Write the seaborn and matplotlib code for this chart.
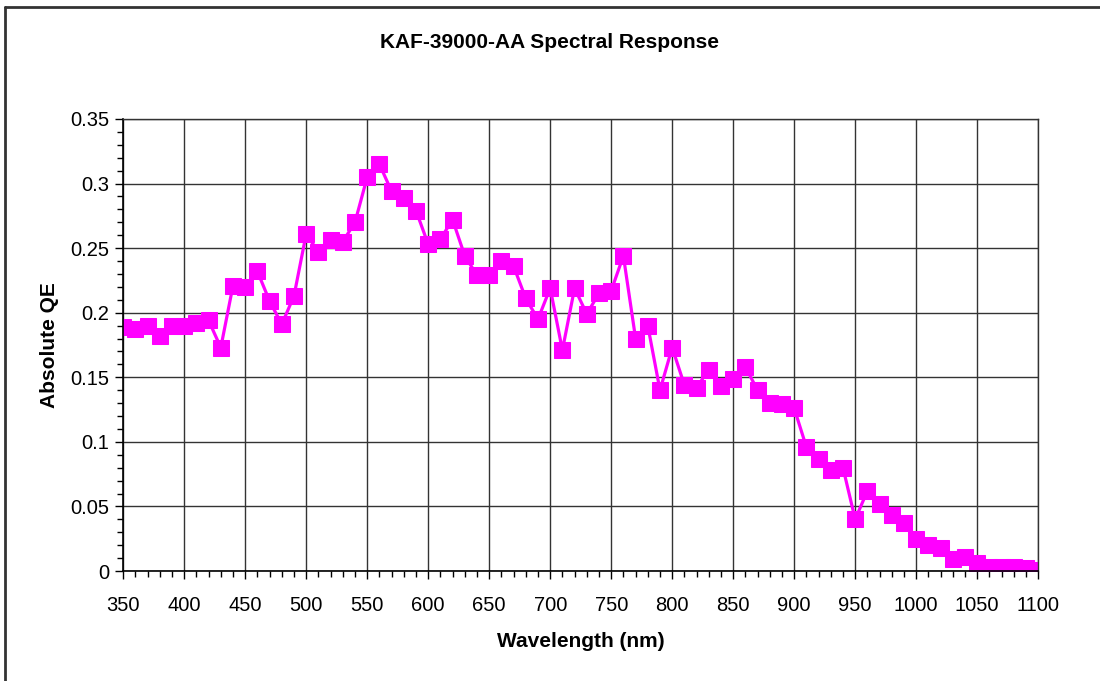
import pandas as pd
import seaborn as sns
import matplotlib.pyplot as plt
from matplotlib.ticker import MultipleLocator
from matplotlib.lines import Line2D

# wavelength in nm, 10 nm steps
wavelength = list(range(350, 1101, 10))
qe = [0.189, 0.187, 0.190, 0.182, 0.190, 0.190, 0.192, 0.194, 0.173, 0.221,
      0.220, 0.232, 0.209, 0.191, 0.213, 0.261, 0.247, 0.256, 0.255, 0.270,
      0.305, 0.315, 0.294, 0.289, 0.279, 0.253, 0.257, 0.272, 0.244, 0.229,
      0.229, 0.240, 0.236, 0.211, 0.195, 0.219, 0.171, 0.219, 0.199, 0.215,
      0.217, 0.244, 0.180, 0.190, 0.140, 0.173, 0.144, 0.142, 0.156, 0.143,
      0.149, 0.158, 0.140, 0.130, 0.129, 0.126, 0.096, 0.087, 0.078, 0.080,
      0.040, 0.062, 0.052, 0.043, 0.037, 0.025, 0.020, 0.018, 0.009, 0.011,
      0.006, 0.003, 0.003, 0.003, 0.002, 0.001]

title = 'KAF-39000-AA Spectral Response'
xlabel = 'Wavelength (nm)'
ylabel = 'Absolute QE'
yticks = [0, 0.05, 0.1, 0.15, 0.2, 0.25, 0.3, 0.35]
yticklabels = ['0', '0.05', '0.1', '0.15', '0.2', '0.25', '0.3', '0.35']


def main():
    sns.set_style('white')
    plt.rcParams['font.family'] = ['Liberation Sans', 'DejaVu Sans']
    plt.rcParams['text.color'] = 'black'
    plt.rcParams['axes.labelcolor'] = 'black'
    plt.rcParams['xtick.color'] = 'black'
    plt.rcParams['ytick.color'] = 'black'

    df = pd.DataFrame({'wavelength': wavelength, 'qe': qe})

    fig = plt.figure(figsize=(11, 6.81), dpi=100)
    ax = fig.add_axes([0.112, 0.1615, 0.8318, 0.6638])

    sns.lineplot(data=df, x='wavelength', y='qe', ax=ax, color='#FF00FF',
                 linewidth=2.3, marker='s', markersize=11,
                 markeredgecolor='#FF00FF', markerfacecolor='#FF00FF')

    ax.set_xlim(350, 1100)
    ax.set_ylim(0, 0.35)
    ax.xaxis.set_major_locator(MultipleLocator(50))
    ax.xaxis.set_minor_locator(MultipleLocator(10))
    ax.yaxis.set_minor_locator(MultipleLocator(0.01))
    ax.set_yticks(yticks)
    ax.set_yticklabels(yticklabels)
    ax.grid(True, which='major', color='#333333', linewidth=1)
    ax.set_axisbelow(True)

    ax.tick_params(axis='both', which='major', direction='out', length=6,
                   width=1, color='black', labelcolor='black', labelsize=14.5,
                   bottom=True, left=True)
    ax.tick_params(axis='x', which='major', pad=12)
    ax.tick_params(axis='y', which='major', pad=4)
    ax.tick_params(axis='both', which='minor', direction='out', length=4,
                   width=1, color='black', bottom=True, left=True)

    for side in ['left', 'bottom']:
        ax.spines[side].set_color('black')
        ax.spines[side].set_linewidth(1.2)
    for side in ['top', 'right']:
        ax.spines[side].set_color('#333333')
        ax.spines[side].set_linewidth(1)

    ax.set_xlabel(xlabel, fontsize=15, fontweight='bold', labelpad=12,
                  color='black')
    ax.set_ylabel(ylabel, fontsize=15, fontweight='bold', labelpad=8,
                  color='black')
    fig.text(0.5, 0.938, title, ha='center', va='center',
             fontsize=15, fontweight='bold', color='black')

    # outer chart frame (only top and left edges visible)
    top = 1 - 7 / 681
    left = 4.5 / 1100
    fig.add_artist(Line2D([left, 1], [top, top], transform=fig.transFigure,
                          color='#333333', linewidth=2))
    fig.add_artist(Line2D([left, left], [0, top], transform=fig.transFigure,
                          color='#333333', linewidth=2))

    plt.savefig('out.png', dpi=100)


if __name__ == "__main__":
    main()
